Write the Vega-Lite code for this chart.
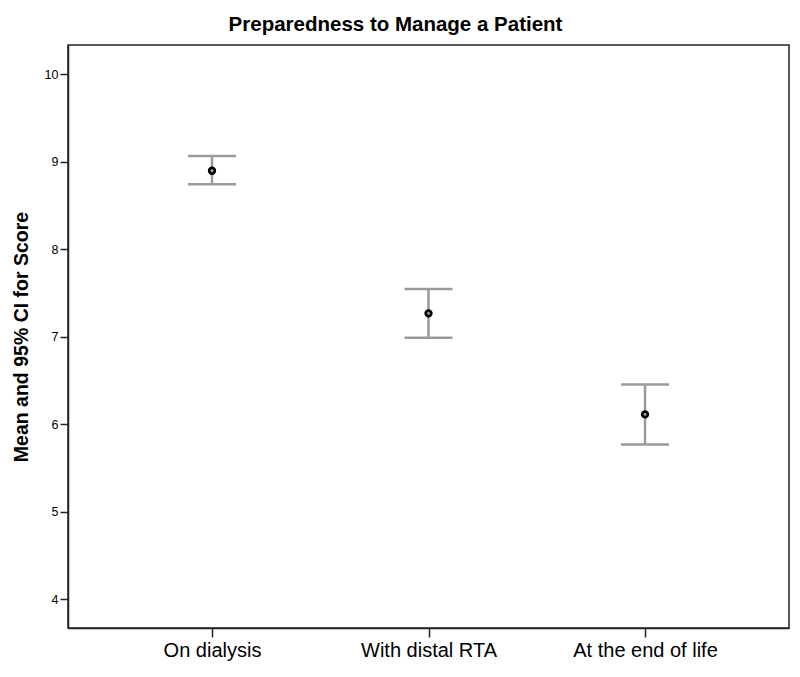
{
  "$schema": "https://vega.github.io/schema/vega-lite/v6.json",
  "autosize": "none",
  "width": 721,
  "height": 583,
  "padding": {"left": 68, "top": 45, "right": 11, "bottom": 49},
  "background": "white",
  "title": {
    "text": "Preparedness to Manage a Patient",
    "font": "Liberation Sans",
    "fontSize": 20.5,
    "fontWeight": "bold",
    "color": "#000000",
    "anchor": "middle",
    "frame": "group",
    "dx": -33,
    "offset": 10
  },
  "config": {
    "font": "Liberation Sans",
    "view": {"stroke": "#222222", "strokeWidth": 1.5},
    "axis": {"grid": false, "domainColor": "#222222", "domainWidth": 1.5, "tickColor": "#222222", "tickWidth": 1.5, "labelColor": "#000000", "titleColor": "#000000"}
  },
  "data": {
    "values": [
      {"group": "On dialysis", "mean": 8.898, "lower": 8.742, "upper": 9.066},
      {"group": "With distal RTA", "mean": 7.267, "lower": 6.988, "upper": 7.545},
      {"group": "At the end of life", "mean": 6.112, "lower": 5.769, "upper": 6.455}
    ]
  },
  "encoding": {
    "x": {
      "field": "group",
      "type": "nominal",
      "sort": null,
      "scale": {"type": "point", "padding": 0.665},
      "axis": {"title": null, "labelAngle": 0, "labelFontSize": 20, "tickSize": 9, "labelPadding": 3}
    }
  },
  "layer": [
    {
      "mark": {"type": "rule", "color": "#9a9a9a", "strokeWidth": 2.5},
      "encoding": {
        "y": {
          "field": "lower",
          "type": "quantitative",
          "scale": {"domain": [3.67, 10.335], "nice": false, "zero": false},
          "axis": {
            "title": "Mean and 95% CI for Score",
            "titleFontSize": 19.5,
            "titleFontWeight": "bold",
            "titleAngle": -90,
            "titleX": -47,
            "titleY": 291.5,
            "titleAlign": "center",
            "titleBaseline": "middle",
            "values": [4, 5, 6, 7, 8, 9, 10],
            "format": "d",
            "labelFontSize": 12.5,
            "tickSize": 8,
            "labelPadding": 2
          }
        },
        "y2": {"field": "upper"}
      }
    },
    {
      "mark": {"type": "tick", "color": "#9a9a9a", "size": 48, "thickness": 2.5, "opacity": 1},
      "encoding": {"y": {"field": "lower", "type": "quantitative"}}
    },
    {
      "mark": {"type": "tick", "color": "#9a9a9a", "size": 48, "thickness": 2.5, "opacity": 1},
      "encoding": {"y": {"field": "upper", "type": "quantitative"}}
    },
    {
      "mark": {"type": "point", "shape": "circle", "filled": false, "fill": "#aaaaaa", "fillOpacity": 1, "stroke": "#000000", "strokeWidth": 2.7, "size": 32, "opacity": 1},
      "encoding": {"y": {"field": "mean", "type": "quantitative"}}
    }
  ]
}
